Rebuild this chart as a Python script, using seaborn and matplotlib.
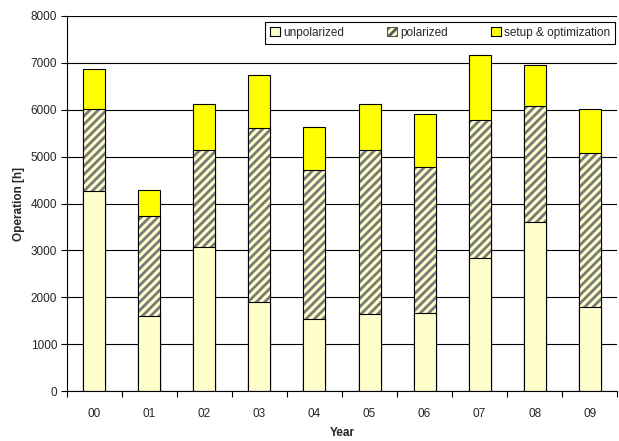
import matplotlib
matplotlib.use("Agg")
import matplotlib.pyplot as plt
import numpy as np
import pandas as pd
import seaborn as sns
from matplotlib.patches import Patch
from matplotlib.ticker import FixedLocator

years = ["00", "01", "02", "03", "04", "05", "06", "07", "08", "09"]
unpolarized = [4270, 1600, 3065, 1900, 1530, 1635, 1670, 2830, 3615, 1785]
polarized = [1755, 2140, 2085, 3705, 3185, 3515, 3100, 2960, 2460, 3295]
setup = [845, 555, 980, 1130, 910, 980, 1145, 1370, 880, 930]

sns.set_style("white")
plt.rcParams["font.family"] = ["Liberation Sans", "DejaVu Sans"]
plt.rcParams["hatch.linewidth"] = 2.0

df = pd.DataFrame({"Year": years, "unpol": unpolarized, "pol": polarized, "setup": setup})
df["pol_top"] = df["unpol"] + df["pol"]
df["total"] = df["pol_top"] + df["setup"]

fig, ax = plt.subplots(figsize=(6.19, 4.41), dpi=100)
fig.subplots_adjust(left=0.108, right=0.997, top=0.964, bottom=0.113)

bw = 0.4
# stack by overlaying cumulative heights, largest first
sns.barplot(data=df, x="Year", y="total", order=years, color="#FFFF00", saturation=1,
            width=bw, edgecolor="black", linewidth=0.8, ax=ax)
sns.barplot(data=df, x="Year", y="pol_top", order=years, color="#FFFFCC", saturation=1,
            width=bw, edgecolor="#7a7a7a", linewidth=0, hatch="////", ax=ax)
sns.barplot(data=df, x="Year", y="pol_top", order=years, color="black", fill=False,
            width=bw, linewidth=0.8, ax=ax)
sns.barplot(data=df, x="Year", y="unpol", order=years, color="#FFFFCC", saturation=1,
            width=bw, edgecolor="black", linewidth=0.8, ax=ax)

ax.set_ylim(0, 8000)
ax.set_xlim(-0.5, 9.5)
ax.set_yticks(np.arange(0, 8001, 1000))
ax.yaxis.grid(True, color="black", linewidth=0.8)
ax.set_axisbelow(True)

for s in ["top", "right"]:
    ax.spines[s].set_visible(False)
for s in ["left", "bottom"]:
    ax.spines[s].set_color("black")
    ax.spines[s].set_linewidth(0.8)

ax.xaxis.set_minor_locator(FixedLocator(np.arange(-0.5, 10, 1)))
ax.tick_params(axis="x", which="major", length=0, pad=12, labelsize=8.5)
ax.tick_params(axis="x", which="minor", length=4, width=0.8, direction="out", color="black")
ax.tick_params(axis="y", length=4, width=0.8, direction="out", color="black", labelsize=8.5, pad=3)
ax.tick_params(axis="both", left=True, bottom=True, which="both")

ax.set_xlabel("Year", fontsize=8.5, fontweight="bold", labelpad=5)
ax.set_ylabel("Operation [h]", fontsize=8.5, fontweight="bold", labelpad=4)

handles = [
    Patch(facecolor="#FFFFCC", edgecolor="black", linewidth=0.8, label="unpolarized"),
    Patch(facecolor="#FFFFCC", edgecolor="#555555", linewidth=0.8, hatch="////", label="polarized"),
    Patch(facecolor="#FFFF00", edgecolor="black", linewidth=0.8, label="setup & optimization"),
]
leg = ax.legend(handles=handles, loc="upper right", bbox_to_anchor=(0.997, 0.985),
                ncol=3, fontsize=8.5, frameon=True, fancybox=False, framealpha=1,
                borderaxespad=0, handlelength=0.8, handleheight=0.8, handletextpad=0.3,
                columnspacing=3.65, borderpad=0.45)
leg.get_frame().set_edgecolor("black")
leg.get_frame().set_linewidth(0.8)

fig.savefig("out.png", dpi=100)
